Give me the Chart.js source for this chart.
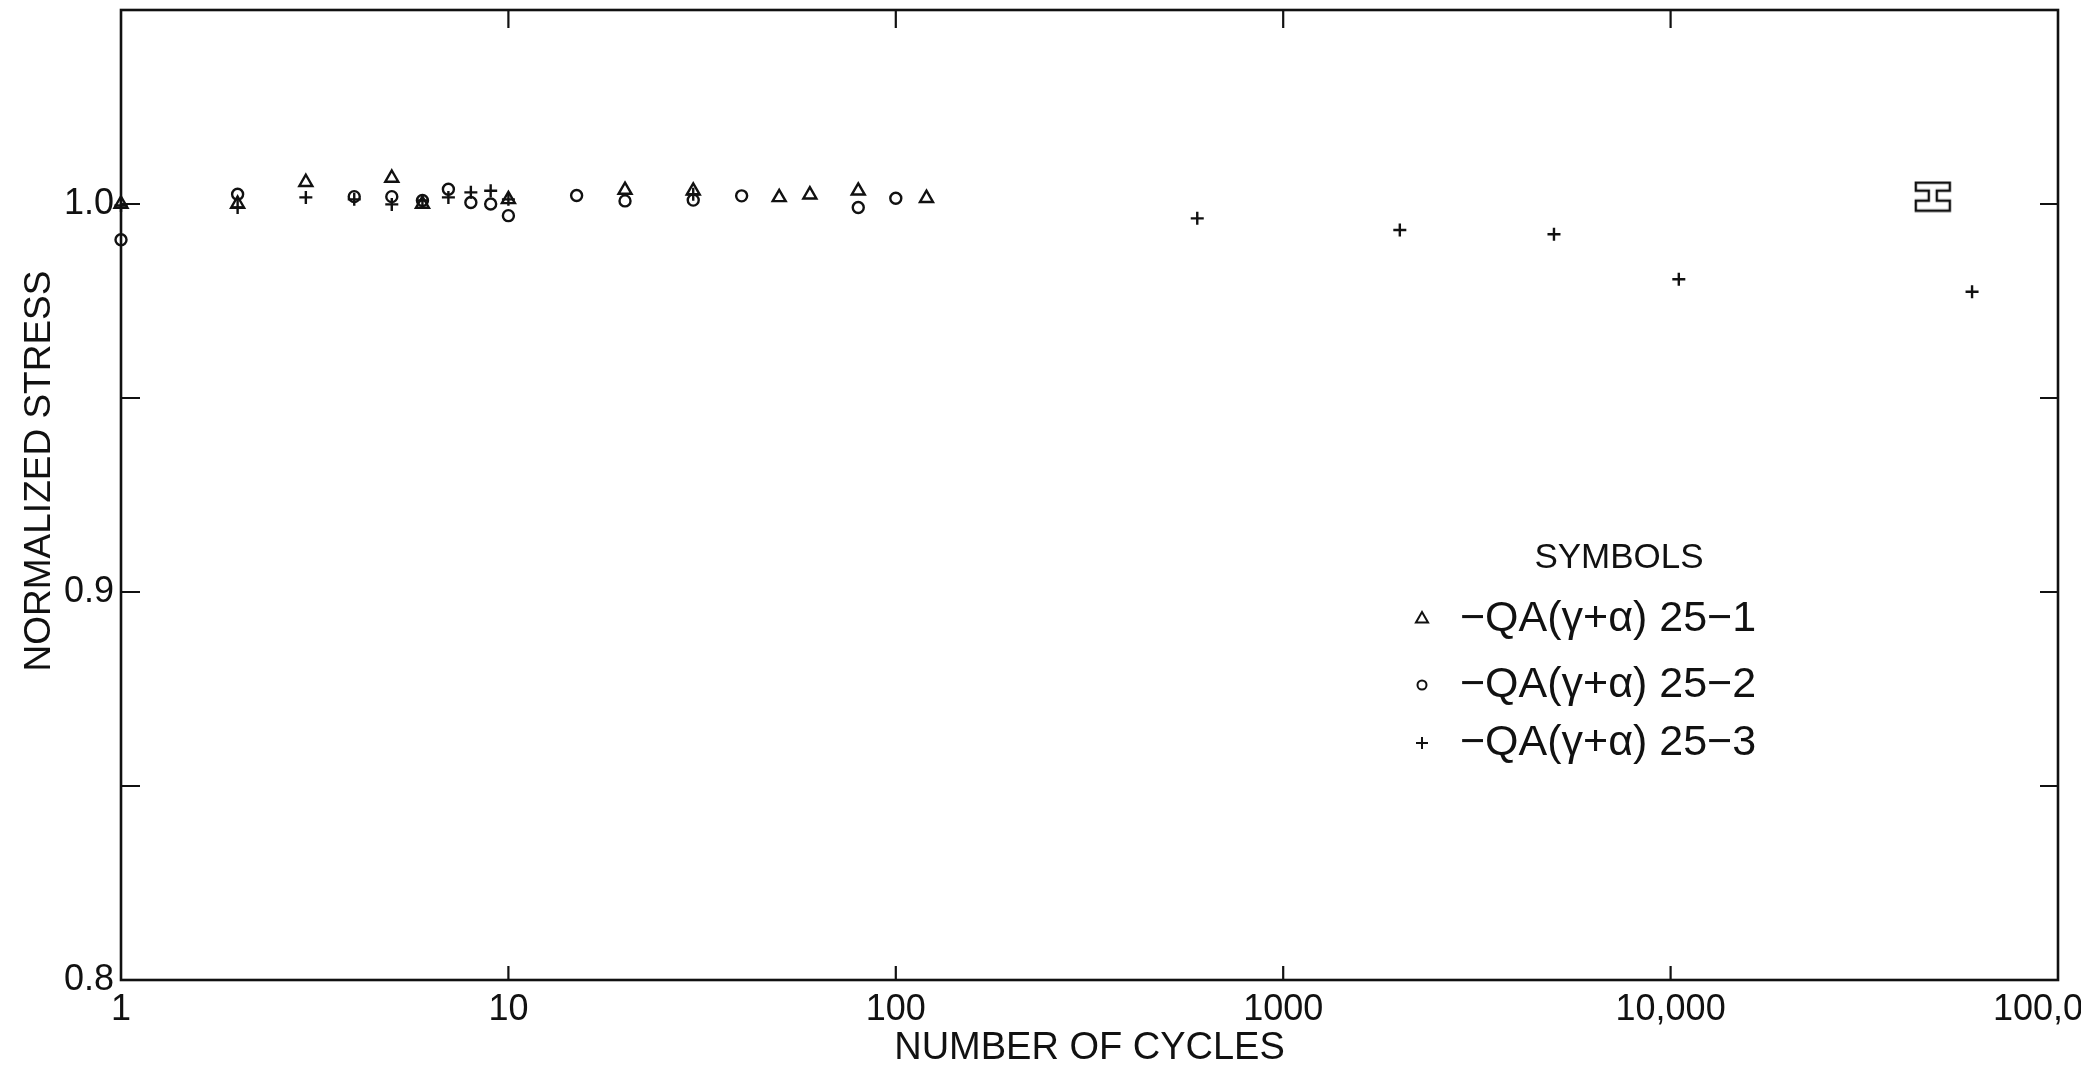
<!DOCTYPE html>
<html>
<head>
<meta charset="utf-8">
<style>
  html, body { margin: 0; padding: 0; background: #ffffff; }
  #wrap { width: 2081px; height: 1073px; position: relative; }
  canvas { display: block; }
</style>
<script src="https://cdn.jsdelivr.net/npm/chart.js@4/dist/chart.umd.min.js"></script>
</head>
<body>
<div id="wrap"><canvas id="c" width="2081" height="1073"></canvas></div>
<script>
// ---------------- DATA ----------------
const xTickValues = [1, 10, 100, 1000, 10000, 100000];
const xTickLabels = ['1', '10', '100', '1000', '10,000', '100,000'];
const yTickValues = [0.8, 0.85, 0.9, 0.95, 1.0];
const yTickLabels = ['0.8', '', '0.9', '', '1.0'];

const seriesLabels = ['\u2212QA(\u03B3+\u03B1) 25\u22121', '\u2212QA(\u03B3+\u03B1) 25\u22122', '\u2212QA(\u03B3+\u03B1) 25\u22123'];
const legendTitle = 'SYMBOLS';
const xTitle = 'NUMBER OF CYCLES';
const yTitle = 'NORMALIZED STRESS';

// 25-1 (triangles)
const cyclesA = [1, 2, 3, 5, 6, 10, 20, 30, 50, 60, 80, 120];
const stressA = [1.0, 1.0, 1.0056, 1.0067, 1.0, 1.0012, 1.0036, 1.0034, 1.0017, 1.0024, 1.0034, 1.0015];
// 25-2 (circles)
const cyclesB = [1, 2, 4, 5, 6, 7, 8, 9, 10, 15, 20, 30, 40, 80, 100];
const stressB = [0.9908, 1.0025, 1.0019, 1.0019, 1.0009, 1.0038, 1.0004, 1.0, 0.997, 1.0022, 1.0008, 1.001, 1.0021, 0.9991, 1.0015];
// 25-3 (plus)
const cyclesC = [1, 2, 3, 4, 5, 6, 7, 8, 9, 10, 30, 600, 2000, 5000, 10500, 60000];
const stressC = [0.9996, 0.9991, 1.0017, 1.0012, 0.9999, 1.0009, 1.0017, 1.003, 1.0034, 1.0012, 1.0025, 0.9963, 0.9933, 0.9922, 0.9806, 0.9774];
// special bracket symbol
const cyclesS = [47500];
const stressS = [1.0019];

// ---------------- HELPERS ----------------
const INK = '#111111';
const FONT = "'Liberation Sans', Arial, sans-serif";

function pts(xs, ys) { return xs.map((x, i) => ({ x: x, y: ys[i] })); }

function makeBeam() {
  const c = document.createElement('canvas');
  c.width = 38; c.height = 32;
  const g = c.getContext('2d');
  g.strokeStyle = INK; g.lineWidth = 2.4;
  g.beginPath();
  g.moveTo(2, 2); g.lineTo(36, 2); g.lineTo(36, 10); g.lineTo(23, 10); g.lineTo(23, 20);
  g.lineTo(36, 20); g.lineTo(36, 30); g.lineTo(2, 30); g.lineTo(2, 20); g.lineTo(15, 20);
  g.lineTo(15, 10); g.lineTo(2, 10); g.closePath();
  g.stroke();
  return c;
}

const framePlugin = {
  id: 'frame',
  beforeDatasetsDraw(chart) {
    const { ctx, chartArea: a, scales } = chart;
    const xs = scales.x, ys = scales.y;
    ctx.save();
    ctx.strokeStyle = INK;
    ctx.lineWidth = 2.6;
    ctx.strokeRect(a.left, a.top, a.right - a.left, a.bottom - a.top);
    ctx.lineWidth = 2.2;
    ctx.beginPath();
    xTickValues.forEach(v => {
      if (v <= 1 || v >= 100000) return;
      const px = xs.getPixelForValue(v);
      ctx.moveTo(px, a.bottom); ctx.lineTo(px, a.bottom - 14);
      ctx.moveTo(px, a.top); ctx.lineTo(px, a.top + 18);
    });
    yTickValues.forEach(v => {
      if (v <= 0.8) return;
      const py = ys.getPixelForValue(v);
      ctx.moveTo(a.left, py); ctx.lineTo(a.left + 19, py);
      ctx.moveTo(a.right, py); ctx.lineTo(a.right - 18, py);
    });
    ctx.stroke();
    // y axis title
    ctx.fillStyle = INK;
    ctx.font = '37px ' + FONT;
    ctx.textAlign = 'center';
    ctx.textBaseline = 'middle';
    ctx.translate(40, 471);
    ctx.rotate(-Math.PI / 2);
    ctx.fillText(yTitle, 0, 0);
    ctx.restore();
  }
};

const legendPlugin = {
  id: 'symLegend',
  afterDraw(chart) {
    const { ctx } = chart;
    ctx.save();
    ctx.fillStyle = INK;
    ctx.strokeStyle = INK;
    ctx.textBaseline = 'middle';
    ctx.font = '35px ' + FONT;
    ctx.textAlign = 'center';
    ctx.fillText(legendTitle, 1619, 558);
    ctx.font = '43px ' + FONT;
    ctx.textAlign = 'left';
    const rows = [619, 685, 743];
    const sx = 1422, tx = 1460;
    rows.forEach((y, i) => { ctx.fillText(seriesLabels[i], tx, y); });
    ctx.lineWidth = 2;
    // triangle
    ctx.beginPath();
    let r = 7, y0 = rows[0];
    ctx.moveTo(sx, y0 - r); ctx.lineTo(sx + r * 0.866, y0 + r * 0.5); ctx.lineTo(sx - r * 0.866, y0 + r * 0.5); ctx.closePath();
    ctx.stroke();
    // circle
    ctx.beginPath(); ctx.arc(sx, rows[1], 4.5, 0, Math.PI * 2); ctx.stroke();
    // plus
    ctx.beginPath();
    ctx.moveTo(sx - 6, rows[2]); ctx.lineTo(sx + 6, rows[2]);
    ctx.moveTo(sx, rows[2] - 6); ctx.lineTo(sx, rows[2] + 6);
    ctx.stroke();
    ctx.restore();
  }
};

// ---------------- CHART ----------------
const ctx = document.getElementById('c').getContext('2d');
new Chart(ctx, {
  type: 'scatter',
  data: {
    datasets: [
      { label: seriesLabels[0], data: pts(cyclesA, stressA), pointStyle: 'triangle', pointRadius: 7.5,
        borderColor: INK, backgroundColor: 'rgba(0,0,0,0)', pointBorderWidth: 2.4, clip: false },
      { label: seriesLabels[1], data: pts(cyclesB, stressB), pointStyle: 'circle', pointRadius: 5.5,
        borderColor: INK, backgroundColor: 'rgba(0,0,0,0)', pointBorderWidth: 2.4, clip: false },
      { label: seriesLabels[2], data: pts(cyclesC, stressC), pointStyle: 'cross', pointRadius: 6.5,
        borderColor: INK, backgroundColor: 'rgba(0,0,0,0)', pointBorderWidth: 2.4, clip: false },
      { label: 'bracket', data: pts(cyclesS, stressS), pointStyle: makeBeam(), pointRadius: 16,
        borderColor: INK, backgroundColor: 'rgba(0,0,0,0)', clip: false }
    ]
  },
  options: {
    responsive: false,
    animation: false,
    devicePixelRatio: 1,
    layout: { autoPadding: false, padding: { top: 10, right: 23, left: 0, bottom: 0 } },
    plugins: { legend: { display: false }, tooltip: { enabled: false } },
    scales: {
      x: {
        type: 'logarithmic',
        min: 1, max: 100000,
        afterBuildTicks: s => { s.ticks = xTickValues.map(v => ({ value: v })); },
        afterFit: s => { s.height = 93; s.paddingLeft = 0; s.paddingRight = 0; },
        grid: { display: false, drawTicks: false },
        border: { display: false },
        ticks: {
          autoSkip: false, maxRotation: 0, minRotation: 0, padding: 8,
          color: INK, font: { family: FONT, size: 36 },
          callback: v => { const i = xTickValues.indexOf(v); return i >= 0 ? xTickLabels[i] : ''; }
        },
        title: { display: true, text: xTitle, color: INK, font: { family: FONT, size: 38 }, padding: { top: 0, bottom: 2 } }
      },
      y: {
        type: 'linear',
        min: 0.8, max: 1.05,
        afterBuildTicks: s => { s.ticks = yTickValues.map(v => ({ value: v })); },
        afterFit: s => { s.width = 121; s.paddingTop = 0; s.paddingBottom = 0; },
        grid: { display: false, drawTicks: false },
        border: { display: false },
        ticks: {
          autoSkip: false, padding: 7,
          color: INK, font: { family: FONT, size: 36 },
          callback: v => { const i = yTickValues.findIndex(t => Math.abs(t - v) < 1e-9); return i >= 0 ? yTickLabels[i] : ''; }
        },
        title: { display: false }
      }
    }
  },
  plugins: [framePlugin, legendPlugin]
});
</script>
</body>
</html>
